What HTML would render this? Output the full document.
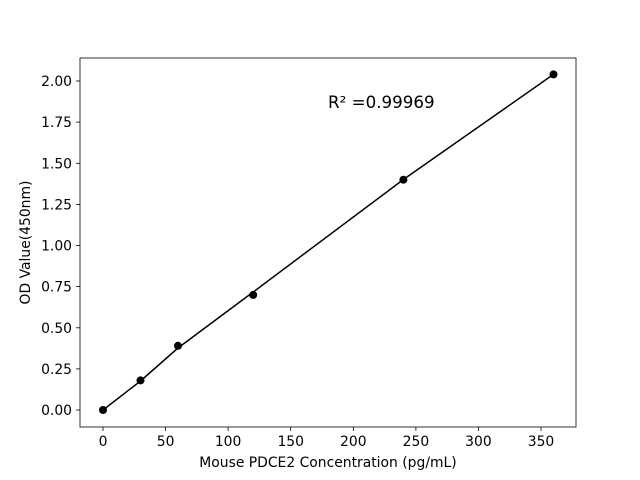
<!DOCTYPE html>
<html><head><style>body{margin:0;background:#fff}svg{display:block}text{font-family:"DejaVu Sans","Liberation Sans",sans-serif;font-size:13.9px;fill:#000}</style></head>
<body>
<svg width="640" height="480" xmlns="http://www.w3.org/2000/svg">
<rect x="80" y="58" width="496" height="369" fill="none" stroke="#000" stroke-width="0.8"/>
<g stroke="#000" stroke-width="0.8">
<line x1="103" y1="427" x2="103" y2="431"/><line x1="165.6" y1="427" x2="165.6" y2="431"/><line x1="228.1" y1="427" x2="228.1" y2="431"/><line x1="290.7" y1="427" x2="290.7" y2="431"/><line x1="353.3" y1="427" x2="353.3" y2="431"/><line x1="415.9" y1="427" x2="415.9" y2="431"/><line x1="478.4" y1="427" x2="478.4" y2="431"/><line x1="541" y1="427" x2="541" y2="431"/>
<line x1="76" y1="410" x2="80" y2="410"/><line x1="76" y1="368.9" x2="80" y2="368.9"/><line x1="76" y1="327.8" x2="80" y2="327.8"/><line x1="76" y1="286.6" x2="80" y2="286.6"/><line x1="76" y1="245.5" x2="80" y2="245.5"/><line x1="76" y1="204.4" x2="80" y2="204.4"/><line x1="76" y1="163.3" x2="80" y2="163.3"/><line x1="76" y1="122.1" x2="80" y2="122.1"/><line x1="76" y1="81" x2="80" y2="81"/>
</g>
<g text-anchor="middle">
<text x="103" y="446">0</text><text x="165.6" y="446">50</text><text x="228.1" y="446">100</text><text x="290.7" y="446">150</text><text x="353.3" y="446">200</text><text x="415.9" y="446">250</text><text x="478.4" y="446">300</text><text x="541" y="446">350</text>
</g>
<g text-anchor="end">
<text x="72" y="415">0.00</text><text x="72" y="373.9">0.25</text><text x="72" y="332.8">0.50</text><text x="72" y="291.6">0.75</text><text x="72" y="250.5">1.00</text><text x="72" y="209.4">1.25</text><text x="72" y="168.3">1.50</text><text x="72" y="127.1">1.75</text><text x="72" y="86">2.00</text>
</g>
<text x="328" y="467" text-anchor="middle">Mouse PDCE2 Concentration (pg/mL)</text>
<text transform="translate(30,242.5) rotate(-90)" text-anchor="middle">OD Value(450nm)</text>
<text x="328" y="108" style="font-size:16.7px">R² =0.99969</text>
<polyline points="103,410 140.5,381 178,348 253.2,292 403.4,179.5 553.5,74.4" fill="none" stroke="#000" stroke-width="1.5"/>
<g fill="#000">
<circle cx="103" cy="410" r="4"/><circle cx="140.5" cy="380.4" r="4"/><circle cx="178" cy="345.8" r="4"/><circle cx="253.2" cy="294.9" r="4"/><circle cx="403.4" cy="179.7" r="4"/><circle cx="553.5" cy="74.4" r="4"/>
</g>
</svg>
</body></html>
